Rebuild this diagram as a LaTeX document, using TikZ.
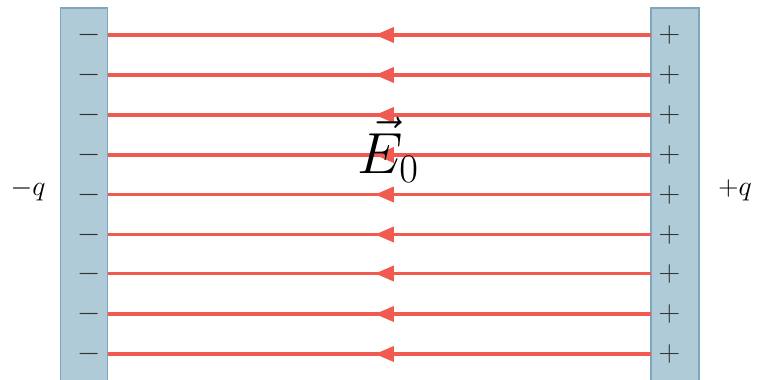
\RequirePackage{fix-cm}
\documentclass[tikz,border=0pt]{standalone}
\usetikzlibrary{arrows.meta,decorations.markings}
\definecolor{platefill}{HTML}{AFCBD8}
\definecolor{plateedge}{HTML}{7FA7BB}
\definecolor{fieldred}{HTML}{F05A50}
\definecolor{signcol}{HTML}{333333}
\begin{document}
\begin{tikzpicture}[x=1pt,y=-1pt,
  plate/.style={fill=platefill,draw=plateedge,line width=1.5pt},
  fieldline/.style={draw=fieldred,line width=3.6pt,
    postaction={decorate},
    decoration={markings,mark=at position 0.508 with {\arrow{Triangle[length=19pt,width=15pt]}}}},
  signlbl/.style={text=signcol,font=\fontsize{30}{30}\selectfont,inner sep=0pt},
  chargelbl/.style={font=\fontsize{28}{28}\selectfont,inner sep=0pt}]
\useasboundingbox (0,0) rectangle (761,380);
\path[plate] (60.5,8) rectangle (107.5,381);
\path[plate] (651,8) rectangle (699,381);
\foreach \i/\yy in {1/35,2/75,3/115,4/155,5/194.5,6/234.5,7/273.5,8/314,9/354}{
  \coordinate (r\i) at (651,\yy);
  \coordinate (l\i) at (107.5,\yy);
  \draw[fieldline] (r\i) -- (l\i);
  \node[signlbl] (m\i) at (89.5,\yy) {$-$};
  \node[signlbl] (p\i) at (669.5,\yy) {$+$};
}
\node[font=\fontsize{58}{60}\selectfont,inner sep=0pt] (E) at (388,150) {$\vec{E}_0$};
\node[chargelbl] (qm) at (28,190) {$-q$};
\node[chargelbl] (qp) at (735,190) {$+q$};
\end{tikzpicture}
\end{document}
